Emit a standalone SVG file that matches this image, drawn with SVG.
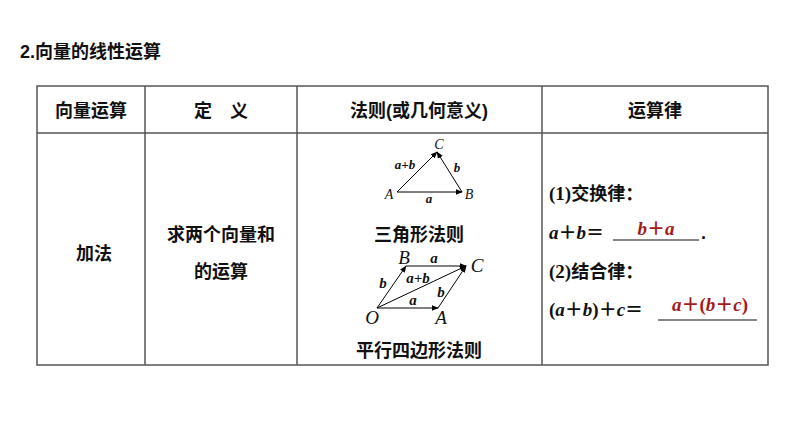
<svg xmlns="http://www.w3.org/2000/svg" width="794" height="447" viewBox="0 0 794 447">
<defs>
<marker id="ar" viewBox="0 0 10 10" refX="9" refY="5" markerWidth="7" markerHeight="7" orient="auto" markerUnits="userSpaceOnUse"><path d="M0,1 L10,5 L0,9 z" fill="#000"/></marker>
<style>
.t{font-family:"Liberation Sans","Noto Sans CJK SC",sans-serif;font-size:18px;font-weight:bold;fill:#111}
.p{font-family:"Liberation Serif",serif;font-size:19px;font-weight:bold;fill:#111}
.m{font-family:"Liberation Serif",serif;font-style:italic;font-size:19px;font-weight:bold;fill:#111}
.s{font-family:"Liberation Serif",serif;font-style:italic;font-size:13px;fill:#111}
.sb{font-family:"Liberation Serif",serif;font-style:italic;font-size:13px;font-weight:bold;fill:#111}
.r{fill:#a31a1a}
.g{stroke:#555;stroke-width:1.5;fill:none}
.v{stroke:#000;stroke-width:1;fill:none;marker-end:url(#ar)}
</style>
</defs>
<rect width="794" height="447" fill="#fff"/>
<text class="t" x="20" y="58">2.向量的线性运算</text>
<g id="table">
<rect class="g" x="37" y="86" width="731" height="279"/>
<line class="g" x1="37" y1="133" x2="768" y2="133"/>
<line class="g" x1="145" y1="86" x2="145" y2="365"/>
<line class="g" x1="297" y1="86" x2="297" y2="365"/>
<line class="g" x1="542" y1="86" x2="542" y2="365"/>
</g>
<g id="headers">
<text class="t" x="91" y="117" text-anchor="middle">向量运算</text>
<text class="t" x="221" y="117" text-anchor="middle">定　义</text>
<text class="t" x="419" y="117" text-anchor="middle">法则(或几何意义)</text>
<text class="t" x="655" y="117" text-anchor="middle">运算律</text>
</g>
<g id="row">
<text class="t" x="94" y="260" text-anchor="middle">加法</text>
<text class="t" x="221" y="241" text-anchor="middle">求两个向量和</text>
<text class="t" x="221" y="278" text-anchor="middle">的运算</text>
</g>
<g id="connectors">
<line class="v" x1="397" y1="192" x2="462" y2="192"/>
<line class="v" x1="462" y1="192" x2="437" y2="152"/>
<line class="v" x1="397" y1="192" x2="437" y2="152"/>
<line class="v" x1="377" y1="308" x2="438" y2="308"/>
<line class="v" x1="377" y1="308" x2="406" y2="266"/>
<line class="v" x1="406" y1="266" x2="466" y2="266"/>
<line class="v" x1="438" y1="308" x2="466" y2="266"/>
<line class="v" x1="377" y1="308" x2="466" y2="266"/>
</g>
<g id="triangle">
<text class="s" x="389" y="199" text-anchor="middle" style="font-size:14px">A</text>
<text class="s" x="469" y="199" text-anchor="middle" style="font-size:14px">B</text>
<text class="s" x="439" y="149" text-anchor="middle" style="font-size:14px">C</text>
<text class="sb" x="405" y="169" text-anchor="middle">a+b</text>
<text class="sb" x="457" y="172" text-anchor="middle">b</text>
<text class="sb" x="429" y="203" text-anchor="middle">a</text>
<text class="t" x="419" y="241" text-anchor="middle">三角形法则</text>
</g>
<g id="parallelogram">
<text class="m" x="372" y="324" text-anchor="middle" style="font-weight:normal">O</text>
<text class="m" x="441" y="324" text-anchor="middle" style="font-weight:normal">A</text>
<text class="m" x="404" y="264" text-anchor="middle" style="font-weight:normal">B</text>
<text class="m" x="477" y="272" text-anchor="middle" style="font-weight:normal">C</text>
<text class="sb" x="434" y="263" text-anchor="middle" style="font-size:15px">a</text>
<text class="sb" x="383" y="288" text-anchor="middle" style="font-size:15px">b</text>
<text class="sb" x="418" y="283" text-anchor="middle" style="font-size:15px">a+b</text>
<text class="sb" x="441" y="297" text-anchor="middle" style="font-size:15px">b</text>
<text class="sb" x="413" y="305" text-anchor="middle" style="font-size:15px">a</text>
<text class="t" x="419" y="357" text-anchor="middle">平行四边形法则</text>
</g>
<g id="laws">
<text x="549" y="200"><tspan class="p">(1)</tspan><tspan class="t">交换律：</tspan></text>
<text x="549" y="239"><tspan class="m">a</tspan><tspan class="t">＋</tspan><tspan class="m">b</tspan><tspan class="t">＝</tspan></text>
<line x1="613" y1="240" x2="699" y2="240" stroke="#111" stroke-width="1.2"/>
<text class="t" x="701" y="239">.</text>
<text x="656" y="235" text-anchor="middle"><tspan class="m r">b</tspan><tspan class="t r">＋</tspan><tspan class="m r">a</tspan></text>
<text x="549" y="278"><tspan class="p">(2)</tspan><tspan class="t">结合律：</tspan></text>
<text x="549" y="316"><tspan class="p">(</tspan><tspan class="m">a</tspan><tspan class="t">＋</tspan><tspan class="m">b</tspan><tspan class="p">)</tspan><tspan class="t">＋</tspan><tspan class="m">c</tspan><tspan class="t">＝</tspan></text>
<line x1="658" y1="320" x2="757" y2="320" stroke="#111" stroke-width="1.2"/>
<text x="710" y="311" text-anchor="middle"><tspan class="m r">a</tspan><tspan class="t r">＋</tspan><tspan class="p r">(</tspan><tspan class="m r">b</tspan><tspan class="t r">＋</tspan><tspan class="m r">c</tspan><tspan class="p r">)</tspan></text>
</g>
</svg>
